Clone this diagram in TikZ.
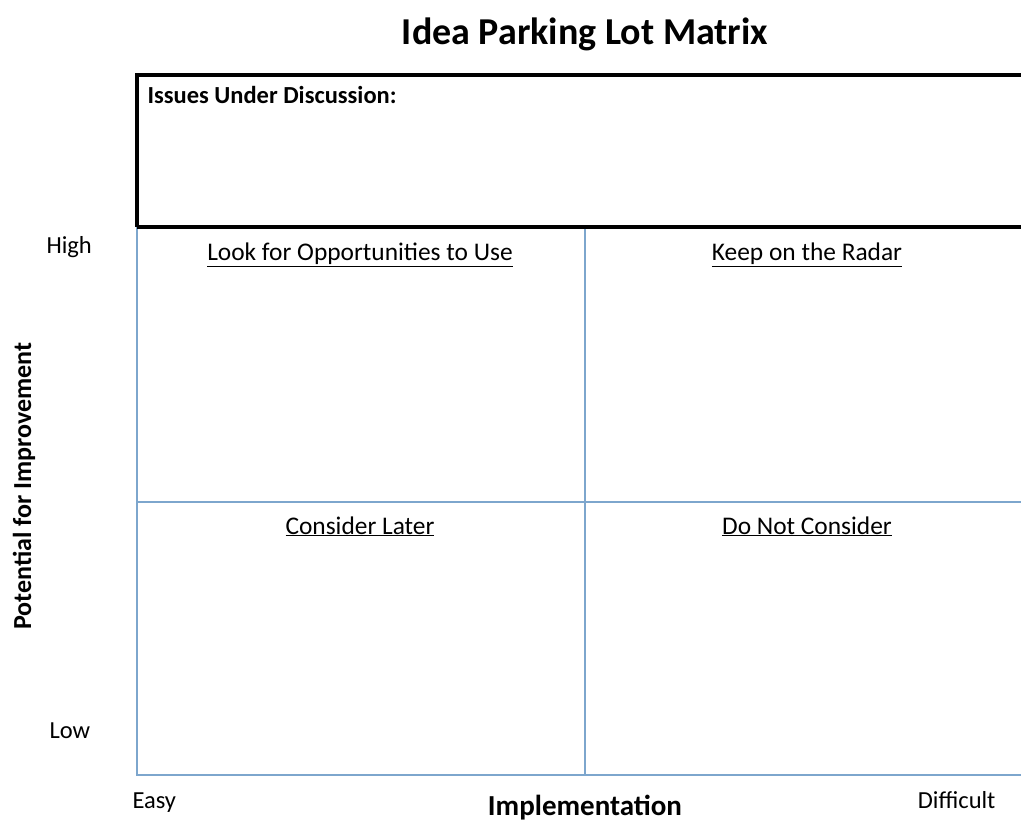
\documentclass[tikz,border=0pt]{standalone}
\usepackage{fontspec}
\setmainfont{Carlito}
\definecolor{gridblue}{RGB}{125,166,205}
\begin{document}
\begin{tikzpicture}[x=1pt,y=-1pt,
  gridline/.style={draw=gridblue,line width=1.6pt},
  heavybox/.style={draw=black,line width=3.5pt},
  quadlabel/.style={font=\fontsize{25.4}{30}\selectfont,anchor=base},
  axislabel/.style={font=\fontsize{24.5}{29}\selectfont,anchor=base},
  axistitle/.style={font=\fontsize{29}{34}\bfseries\selectfont,anchor=base}]
\useasboundingbox (0,0) rectangle (1021,821);
% title
\node[font=\fontsize{38}{44}\bfseries\selectfont,anchor=base] (title) at (585,45) {Idea Parking Lot Matrix};
% quadrant grid (right side runs off the page)
\draw[gridline] (137,227) -- (137,775) -- (1030,775);
\draw[gridline] (585,227) -- (585,775);
\draw[gridline] (137,502) -- (1030,502);
% discussion box
\draw[heavybox] (137,227) -- (137,75) -- (1035,75);
\draw[heavybox] (137,227) -- (1035,227);
\node[font=\fontsize{24.5}{29}\bfseries\selectfont,anchor=base west] (issues) at (144,104) {Issues Under Discussion:};
% quadrant headings
\node[quadlabel] (q1) at (360,261) {\underline{Look for Opportunities to Use}};
\node[quadlabel] (q2) at (807,261) {\underline{Keep on the Radar}};
\node[quadlabel] (q3) at (360,534) {\underline{Consider Later}};
\node[quadlabel] (q4) at (807,534) {\underline{Do Not Consider}};
% axis ends
\node[axislabel,anchor=base west] (high) at (43,254) {High};
\node[axislabel,anchor=base west] (low) at (46,738) {Low};
\node[axislabel,anchor=base west] (easy) at (129,808) {Easy};
\node[axislabel,anchor=base east] (difficult) at (999,808) {Difficult};
% axis titles
\node[axistitle] (impl) at (585,815) {Implementation};
\node[axistitle,font=\fontsize{26}{31}\bfseries\selectfont,rotate=90] (pot) at (31,486) {Potential for Improvement};
\end{tikzpicture}
\end{document}
